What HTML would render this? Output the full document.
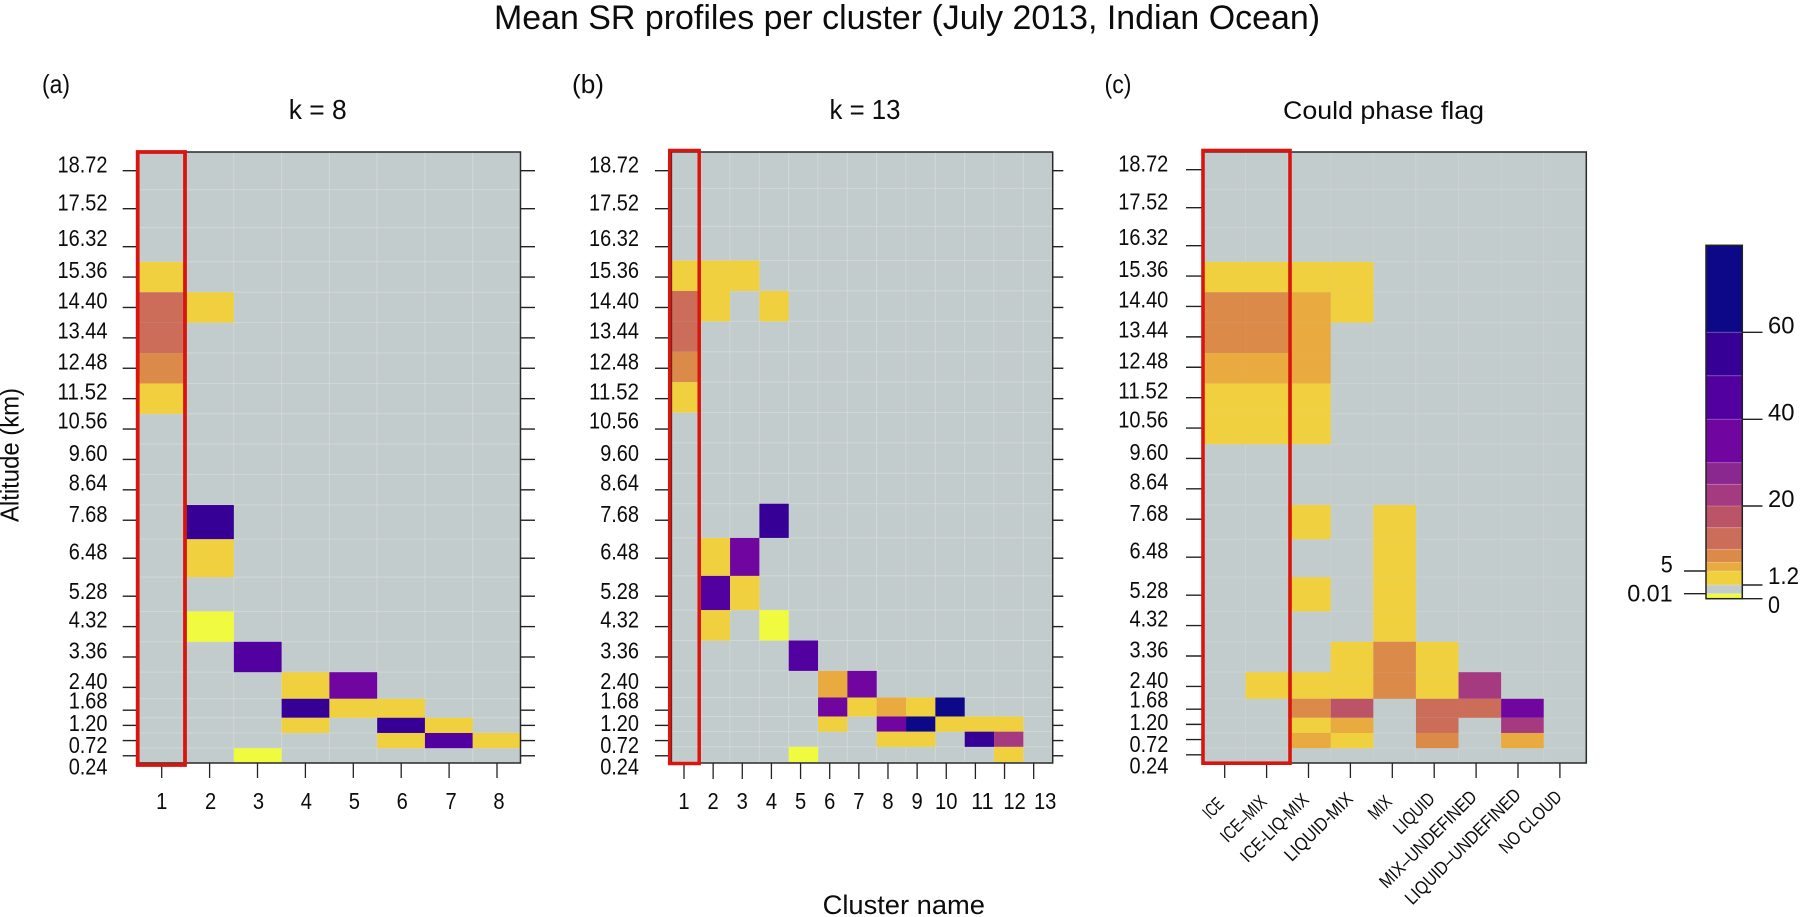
<!DOCTYPE html>
<html lang="en">
<head>
<meta charset="utf-8">
<title>Mean SR profiles per cluster</title>
<style>
html,body{margin:0;padding:0;background:#fff;width:1800px;height:917px;overflow:hidden}
svg{display:block}
text{font-family:"Liberation Sans",sans-serif;fill:#0c0c0c}
</style>
</head>
<body>
<svg id="figure" xmlns="http://www.w3.org/2000/svg" width="1800" height="917" viewBox="0 0 1800 917">
  <text x="494" y="29" font-size="34" textLength="826" lengthAdjust="spacingAndGlyphs">Mean SR profiles per cluster (July 2013, Indian Ocean)</text>
  <text x="42" y="93" font-size="26" textLength="28" lengthAdjust="spacingAndGlyphs">(a)</text>
  <text x="572" y="93" font-size="26" textLength="32" lengthAdjust="spacingAndGlyphs">(b)</text>
  <text x="1104.5" y="93" font-size="26" textLength="27" lengthAdjust="spacingAndGlyphs">(c)</text>
  <text x="288.7" y="119" font-size="28" textLength="58" lengthAdjust="spacingAndGlyphs">k = 8</text>
  <text x="829.5" y="119" font-size="28" textLength="71" lengthAdjust="spacingAndGlyphs">k = 13</text>
  <text x="1283" y="119" font-size="25" textLength="201" lengthAdjust="spacingAndGlyphs">Could phase flag</text>
  <text transform="translate(18.5,522) rotate(-90)" font-size="26" textLength="134" lengthAdjust="spacingAndGlyphs">Altitude (km)</text>
  <text x="822.6" y="914" font-size="27" textLength="162.4" lengthAdjust="spacingAndGlyphs">Cluster name</text>
</svg>
<script>
const altitudes = [18.72,17.52,16.32,15.36,14.40,13.44,12.48,11.52,10.56,9.60,8.64,7.68,6.48,5.28,4.32,3.36,2.40,1.68,1.20,0.72,0.24];
const altitudeTickLabels = ["18.72","17.52","16.32","15.36","14.40","13.44","12.48","11.52","10.56","9.60","8.64","7.68","6.48","5.28","4.32","3.36","2.40","1.68","1.20","0.72","0.24"];
const k8Clusters = ["1","2","3","4","5","6","7","8"];
const k13Clusters = ["1","2","3","4","5","6","7","8","9","10","11","12","13"];
const phaseLabels = ["ICE","ICE\u2013MIX","ICE-LIQ-MIX","LIQUID-MIX","MIX","LIQUID","MIX\u2013UNDEFINED","LIQUID\u2013UNDEFINED","NO CLOUD"];

/* rows follow altitudes (top to bottom), columns follow clusters; values are mean SR */
const k8Values = [
[.5,.5,.5,.5,.5,.5,.5,.5],
[.5,.5,.5,.5,.5,.5,.5,.5],
[.5,.5,.5,.5,.5,.5,.5,.5],
[3,.5,.5,.5,.5,.5,.5,.5],
[12,3,.5,.5,.5,.5,.5,.5],
[12,.5,.5,.5,.5,.5,.5,.5],
[9,.5,.5,.5,.5,.5,.5,.5],
[3,.5,.5,.5,.5,.5,.5,.5],
[.5,.5,.5,.5,.5,.5,.5,.5],
[.5,.5,.5,.5,.5,.5,.5,.5],
[.5,.5,.5,.5,.5,.5,.5,.5],
[.5,55,.5,.5,.5,.5,.5,.5],
[.5,3,.5,.5,.5,.5,.5,.5],
[.5,.5,.5,.5,.5,.5,.5,.5],
[.5,.005,.5,.5,.5,.5,.5,.5],
[.5,.5,45,.5,.5,.5,.5,.5],
[.5,.5,.5,3,35,.5,.5,.5],
[.5,.5,.5,55,3,3,.5,.5],
[.5,.5,.5,3,.5,55,3,.5],
[.5,.5,.5,.5,.5,3,45,3],
[.5,.5,.005,.5,.5,.5,.5,.5]
];
const k13Values = [
[.5,.5,.5,.5,.5,.5,.5,.5,.5,.5,.5,.5,.5],
[.5,.5,.5,.5,.5,.5,.5,.5,.5,.5,.5,.5,.5],
[.5,.5,.5,.5,.5,.5,.5,.5,.5,.5,.5,.5,.5],
[3,3,3,.5,.5,.5,.5,.5,.5,.5,.5,.5,.5],
[12,3,.5,3,.5,.5,.5,.5,.5,.5,.5,.5,.5],
[12,.5,.5,.5,.5,.5,.5,.5,.5,.5,.5,.5,.5],
[9,.5,.5,.5,.5,.5,.5,.5,.5,.5,.5,.5,.5],
[3,.5,.5,.5,.5,.5,.5,.5,.5,.5,.5,.5,.5],
[.5,.5,.5,.5,.5,.5,.5,.5,.5,.5,.5,.5,.5],
[.5,.5,.5,.5,.5,.5,.5,.5,.5,.5,.5,.5,.5],
[.5,.5,.5,.5,.5,.5,.5,.5,.5,.5,.5,.5,.5],
[.5,.5,.5,55,.5,.5,.5,.5,.5,.5,.5,.5,.5],
[.5,3,35,.5,.5,.5,.5,.5,.5,.5,.5,.5,.5],
[.5,45,3,.5,.5,.5,.5,.5,.5,.5,.5,.5,.5],
[.5,3,.5,.005,.5,.5,.5,.5,.5,.5,.5,.5,.5],
[.5,.5,.5,.5,45,.5,.5,.5,.5,.5,.5,.5,.5],
[.5,.5,.5,.5,.5,6,35,.5,.5,.5,.5,.5,.5],
[.5,.5,.5,.5,.5,35,3,6,3,70,.5,.5,.5],
[.5,.5,.5,.5,.5,3,.5,35,70,3,3,3,.5],
[.5,.5,.5,.5,.5,.5,.5,3,3,.5,55,22,.5],
[.5,.5,.5,.5,.005,.5,.5,.5,.5,.5,.5,3,.5]
];
const phaseValues = [
[.5,.5,.5,.5,.5,.5,.5,.5,.5],
[.5,.5,.5,.5,.5,.5,.5,.5,.5],
[.5,.5,.5,.5,.5,.5,.5,.5,.5],
[3,3,3,3,.5,.5,.5,.5,.5],
[9,9,6,3,.5,.5,.5,.5,.5],
[9,9,6,.5,.5,.5,.5,.5,.5],
[6,6,6,.5,.5,.5,.5,.5,.5],
[3,3,3,.5,.5,.5,.5,.5,.5],
[3,3,3,.5,.5,.5,.5,.5,.5],
[.5,.5,.5,.5,.5,.5,.5,.5,.5],
[.5,.5,.5,.5,.5,.5,.5,.5,.5],
[.5,.5,3,.5,3,.5,.5,.5,.5],
[.5,.5,.5,.5,3,.5,.5,.5,.5],
[.5,.5,3,.5,3,.5,.5,.5,.5],
[.5,.5,.5,.5,3,.5,.5,.5,.5],
[.5,.5,.5,3,9,3,.5,.5,.5],
[.5,3,3,3,9,3,22,.5,.5],
[.5,.5,9,18,.5,12,12,35,.5],
[.5,.5,3,6,.5,12,.5,22,.5],
[.5,.5,6,3,.5,9,.5,6,.5],
[.5,.5,.5,.5,.5,.5,.5,.5,.5]
];

const colorBreaks = [0,0.01,1.2,5,7,10,15,20,25,30,40,50,60,80];
const colorRamp = ["#f0fa3f","#c3cccc","#f0d03f","#e9aa3f","#dc8a49","#cc6d5a","#bc5468","#a63a80","#8b2890","#70069f","#52009f","#360096","#0d0887"];
const legendRightTicks = [60,40,20,1.2,0];
const legendLeftTicks = [5,0.01];

/* ---- layout (not data) ---- */
const NS = "http://www.w3.org/2000/svg";
const svg = document.getElementById("figure");
const PLOT_TOP = 152, PLOT_BOTTOM = 763;
const yLabelNudge = [2,2,-.7,1,1,.6,1,.7,-.7,1.4,.7,1.7,1.3,3,1,1.3,1.4,-1.6,5.7,12.4,18.6];
const panels = [
  {id:"a", cats:k8Clusters, vals:k8Values, left:138.3, right:520.5, tick0:161.7, tickStep:47.9, rowDy:0, tickDy:0,
   labelRight:107.5, leftTick:[122.7,138], rightTick:[520.5,535], grid:.16, tickLen:15,
   catNudge:[0,1,1,1,1,1,2,2], red:[137.7,152,185,765], redW:3.8},
  {id:"b", cats:k13Clusters, vals:k13Values, left:671.4, right:1052.7, tick0:684, tickStep:29.14, rowDy:-1.3, tickDy:0,
   labelRight:639, leftTick:[655,671], rightTick:[1052.7,1063.3], grid:.16, tickLen:16,
   catNudge:[0,0,0,0,0,0,0,0,0,0,7,10,11.5], red:[669.7,150.5,699.2,763.5], redW:3.5},
  {id:"c", cats:phaseLabels, vals:phaseValues, left:1203, right:1586.3, tick0:1224.7, tickStep:41.9, rowDy:0, tickDy:-1,
   labelRight:1168.3, leftTick:[1186,1203], rightTick:null, grid:.09, tickLen:15,
   red:[1203,150.5,1290,763.2], redW:3.6}
];
/* rotated label end points for panel c */
const phaseLabelEnd = [[1225,805,21],[1268,803,57],[1310,801,88],[1354,800,88],[1393,803,25],[1436,800,50],[1478,798,129],[1522,796,155],[1563,798,80]];

/* ---- scales ---- */
function yScale(alt){ return 170.7 + (18.72 - alt) * 31.66; }
function rowEdges(i){
  const top = i === 0 ? altitudes[0] + 0.6 : (altitudes[i-1] + altitudes[i]) / 2;
  const bottom = i === altitudes.length - 1 ? 0 : (altitudes[i] + altitudes[i+1]) / 2;
  return [yScale(top), yScale(bottom)];
}
function colorFor(v){
  for (let i = colorRamp.length - 1; i >= 0; i--) if (v >= colorBreaks[i]) return colorRamp[i];
  return colorRamp[0];
}
const legendDomain = [0,0.01,1.2,5,20,40,60,80];
const legendRange = [598.7,593.7,585,571,506,419.3,332.3,245.3];
function legendY(v){
  for (let i = 0; i < legendDomain.length - 1; i++) {
    if (v <= legendDomain[i+1]) {
      const t = (v - legendDomain[i]) / (legendDomain[i+1] - legendDomain[i]);
      return legendRange[i] + t * (legendRange[i+1] - legendRange[i]);
    }
  }
  return legendRange[legendRange.length - 1];
}
function numLen(s){
  let n = 0;
  for (const ch of s) n += ch === "." ? 5.2 : 11.2;
  return n;
}
function mk(tag, attrs, parent){
  const el = document.createElementNS(NS, tag);
  for (const k in attrs) el.setAttribute(k, attrs[k]);
  parent.appendChild(el);
  return el;
}

/* ---- panels ---- */
panels.forEach(function(p){
  const g = mk("g", {}, svg);
  
  

  const clipId = "clip-" + p.id;
  const defs = mk("defs", {}, g);
  const cp = mk("clipPath", {id:clipId}, defs);
  mk("rect", {x:p.left, y:PLOT_TOP, width:p.right-p.left, height:PLOT_BOTTOM-PLOT_TOP}, cp);

  const bg = mk("rect", {x:p.left, y:PLOT_TOP, width:p.right-p.left, height:PLOT_BOTTOM-PLOT_TOP, fill:"#c3cccc"}, g);
  
  

  const cells = mk("g", {"clip-path":"url(#"+clipId+")"}, g);
  
  
  const cw = (p.right - p.left) / p.cats.length;
  [true,false].forEach(function(grayPass){
    p.vals.forEach(function(row, r){
      const e = rowEdges(r);
      row.forEach(function(v, c){
        const col = colorFor(v);
        if ((col === "#c3cccc") !== grayPass) return;
        const a = {x:p.left + c*cw, y:e[0]+p.rowDy, width:cw, height:e[1]-e[0], fill:col};
        if (grayPass) { a.stroke = "rgba(255,255,255," + p.grid + ")"; a["stroke-width"] = 1; }
        const cell = mk("rect", a, cells);
        
        
      });
    });
  });

  const frame = mk("rect", {x:p.left, y:PLOT_TOP, width:p.right-p.left, height:PLOT_BOTTOM-PLOT_TOP, fill:"none", stroke:"#2a2a2a", "stroke-width":1.5}, g);
  
  

  altitudes.forEach(function(alt, i){
    const y = yScale(alt) + p.tickDy;
    const t = mk("line", {x1:p.leftTick[0], x2:p.leftTick[1], y1:y, y2:y, stroke:"#222", "stroke-width":1.4}, g);
    
    
    if (p.rightTick) {
      const rt = mk("line", {x1:p.rightTick[0], x2:p.rightTick[1], y1:y, y2:y, stroke:"#222", "stroke-width":1.4}, g);
      
      
    }
    const s = altitudeTickLabels[i];
    const lb = mk("text", {x:p.labelRight, y:y + yLabelNudge[i], "text-anchor":"end", "font-size":23.5, textLength:numLen(s), lengthAdjust:"spacingAndGlyphs"}, g);
    lb.textContent = s;
    
    
  });

  p.cats.forEach(function(name, i){
    const x = p.tick0 + i * p.tickStep;
    const t = mk("line", {x1:x, x2:x, y1:PLOT_BOTTOM, y2:PLOT_BOTTOM + p.tickLen, stroke:"#222", "stroke-width":1.3}, g);
    
    
    let lb;
    if (p.id === "c") {
      const e = phaseLabelEnd[i];
      lb = mk("text", {"text-anchor":"end", "font-size":18.5, transform:"translate("+e[0]+","+e[1]+") rotate(-45)", textLength:e[2], lengthAdjust:"spacingAndGlyphs"}, g);
    } else {
      lb = mk("text", {x:x + p.catNudge[i] - numLen(name)/2, y:809, "font-size":23.5, textLength:numLen(name), lengthAdjust:"spacingAndGlyphs"}, g);
    }
    lb.textContent = name;
    
    
  });

  const rb = mk("rect", {x:p.red[0], y:p.red[1], width:p.red[2]-p.red[0], height:p.red[3]-p.red[1], fill:"none", stroke:"#da1510", "stroke-width":p.redW}, g);
  
  
});

/* ---- colour legend ---- */
const legend = mk("g", {}, svg);


colorRamp.forEach(function(col, i){
  const y1 = legendY(colorBreaks[i+1]), y0 = legendY(colorBreaks[i]);
  const band = mk("rect", {x:1706, y:y1, width:36.3, height:y0-y1, fill:col}, legend);
  
  
  if (i > 0) {
    const seam = mk("line", {x1:1706, x2:1742.3, y1:y0, y2:y0, stroke:"rgba(255,255,255,.22)", "stroke-width":1}, legend);
    
    
  }
});
const legendFrame = mk("rect", {x:1706, y:245.3, width:36.3, height:353.4, fill:"none", stroke:"#222", "stroke-width":1.5}, legend);


legendRightTicks.forEach(function(v){
  const y = legendY(v);
  const t = mk("line", {x1:1742.3, x2:1762.5, y1:y, y2:y, stroke:"#222", "stroke-width":1.4}, legend);
  
  
  const s = String(v);
  const dy = v === 0 ? 14.5 : (v === 1.2 ? -1 : 0);
  const lb = mk("text", {x:1768, y:y + dy + (v >= 20 ? 1 : 0), "font-size":24.5, textLength:s.length === 1 ? 12 : (s.length === 2 ? 26.5 : 31), lengthAdjust:"spacingAndGlyphs"}, legend);
  lb.textContent = s;
  
  
});
legendLeftTicks.forEach(function(v){
  const y = legendY(v);
  const t = mk("line", {x1:1684, x2:1706, y1:y, y2:y, stroke:"#222", "stroke-width":1.4}, legend);
  
  
  const s = String(v);
  const lb = mk("text", {x:1672.7, y:y + (v === 5 ? 1.5 : 8), "text-anchor":"end", "font-size":24.5, textLength:s.length === 1 ? 12 : 45.5, lengthAdjust:"spacingAndGlyphs"}, legend);
  lb.textContent = s;
  
  
});
</script>
</body>
</html>
